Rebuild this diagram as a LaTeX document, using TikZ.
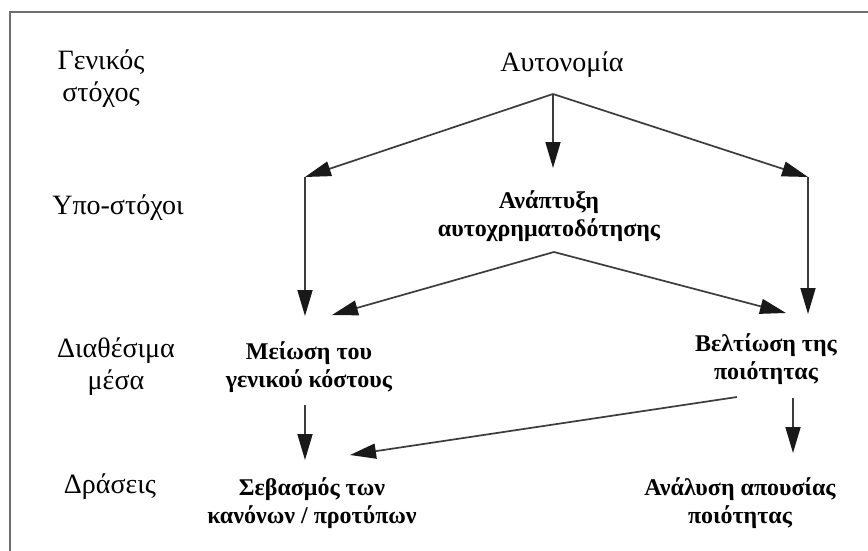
\documentclass[tikz,border=0pt]{standalone}
\usepackage{fontspec}
\setmainfont{Liberation Serif}
\usetikzlibrary{arrows.meta}

\definecolor{framegray}{RGB}{110,110,110}
\definecolor{linegray}{RGB}{60,60,60}
\definecolor{tipblack}{RGB}{25,25,25}

\tikzset{
  levellabel/.style={inner sep=0pt, align=center,
    font=\fontsize{28}{32}\selectfont},
  goalnode/.style={inner sep=0pt, align=center,
    font=\fontsize{28}{32}\selectfont},
  itemnode/.style={inner sep=0pt, align=center,
    font=\fontsize{24}{28}\selectfont\bfseries},
  flow/.style={draw=linegray, line width=1.7pt,
    -{Triangle[length=26pt,width=15pt,color=tipblack]}},
}

\begin{document}
\begin{tikzpicture}[x=1pt,y=-1pt]
  \useasboundingbox (0,0) rectangle (868,550);
  \fill[white] (0,0) rectangle (868,550);

  % outer frame (runs off the right and bottom edges)
  \draw[framegray, line width=2pt] (10,11.5) rectangle (890,570);

  % level labels on the left
  \node[levellabel] (lvlgoal) at (101,79)  {Γενικός\\στόχος};
  \node[levellabel] (lvlsub)  at (118,208) {Υπο-στόχοι};
  \node[levellabel] (lvlmean) at (116,367) {Διαθέσιμα\\μέσα};
  \node[levellabel] (lvlact)  at (110,487) {Δράσεις};

  % hierarchy items
  \node[goalnode] (auto)  at (562,65)  {Αυτονομία};
  \node[itemnode] (fund)  at (549,216) {Ανάπτυξη\\αυτοχρηματοδότησης};
  \node[itemnode] (cost)  at (309,367) {Μείωση του\\γενικού κόστους};
  \node[itemnode] (qual)  at (766,359) {Βελτίωση της\\ποιότητας};
  \node[itemnode] (norms) at (312,503) {Σεβασμός των\\κανόνων / προτύπων};
  \node[itemnode] (anal)  at (740,503) {Ανάλυση απουσίας\\ποιότητας};

  % connector end points
  \coordinate (autoOut) at (553,94);
  \coordinate (bendL)   at (305,177);
  \coordinate (bendR)   at (808,177);
  \coordinate (fundIn)  at (553,168);
  \coordinate (fundOut) at (554,252);
  \coordinate (costInV) at (305,316);
  \coordinate (costInD) at (332,315);
  \coordinate (qualInV) at (808,314);
  \coordinate (qualInD) at (786,313);
  \coordinate (costOut) at (305,405);
  \coordinate (normsInV) at (305,460);
  \coordinate (qualOutD) at (737,397);
  \coordinate (normsInD) at (350,455);
  \coordinate (qualOutV) at (793,398);
  \coordinate (analIn)  at (793,453);

  % connectors
  \draw[flow] (autoOut) -- (bendL);
  \draw[flow] (autoOut) -- (fundIn);
  \draw[flow] (autoOut) -- (bendR);
  \draw[flow] (bendL) -- (costInV);
  \draw[flow] (bendR) -- (qualInV);
  \draw[flow] (fundOut) -- (costInD);
  \draw[flow] (fundOut) -- (qualInD);
  \draw[flow] (costOut) -- (normsInV);
  \draw[flow] (qualOutD) -- (normsInD);
  \draw[flow] (qualOutV) -- (analIn);
\end{tikzpicture}
\end{document}
